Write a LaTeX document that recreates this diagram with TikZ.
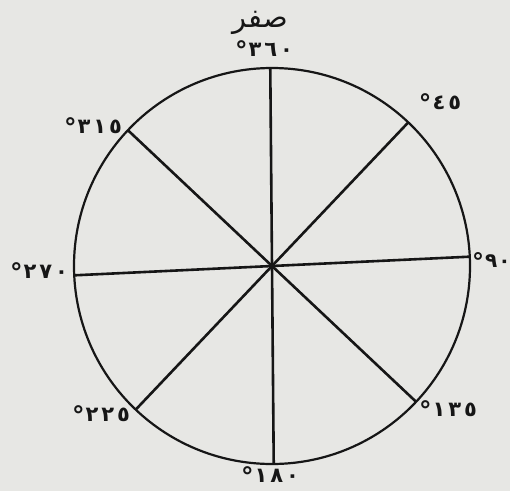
\documentclass[tikz,border=0pt]{standalone}
\usepackage{fontspec}
\newfontfamily\arabicfont[Script=Arabic]{DejaVu Sans}
\newfontfamily\digitfont[Script=Arabic, LetterSpace=14]{DejaVu Sans}
\TeXXeTstate=1
\usetikzlibrary{positioning,calc}
\definecolor{paper}{RGB}{231,231,228}
\definecolor{ink}{RGB}{22,22,22}
\newcommand{\degl}[1]{\raisebox{-3pt}{\scalebox{1.2}{°}}\kern1pt\hbox{#1}}

\begin{document}
\begin{tikzpicture}[
    x=1pt, y=1pt,
    rim/.style={draw=ink, line width=2.2pt},
    spoke/.style={draw=ink, line width=2.6pt},
    deg/.style={font=\digitfont\bfseries\fontsize{21}{21}\selectfont, text=ink, inner sep=0pt},
    zlbl/.style={font=\arabicfont\fontsize{29}{29}\selectfont, text=ink, inner sep=0pt},
]
\fill[paper] (0, 0) rectangle (510, 491);
\useasboundingbox (0, 0) rectangle (510, 491);
\coordinate (O) at (272, 225);
\draw[rim] (O) circle (198);
\foreach \name/\ang in {n/90.5, ne/46.5, e/2.7, se/-43.3} {
    \coordinate (\name) at ($(O) + (\ang:198)$);
    \coordinate (\name') at ($(O) + (\ang+180:198)$);
    \draw[spoke] (\name) -- (\name');
}
\node[zlbl] (zero) at (260, 468) {\beginR صفر\endR};
\node[deg] (d360) at (264, 441) {\degl{٣٦٠}};
\node[deg] (d45) at (440, 388) {\degl{٤٥}};
\node[deg, anchor=west, font=\arabicfont\bfseries\fontsize{20}{20}\selectfont] (d90) at (472, 229) {\degl{٩\kern1pt٠}};
\node[deg] (d270) at (39, 219) {\degl{٢٧٠}};
\node[deg] (d315) at (93, 364) {\degl{٣١٥}};
\node[deg] (d225) at (101, 76) {\degl{٢٢٥}};
\node[deg] (d135) at (448, 81) {\degl{١٣٥}};
\node[deg] (d180) at (270, 15) {\degl{١٨٠}};
\end{tikzpicture}
\end{document}
